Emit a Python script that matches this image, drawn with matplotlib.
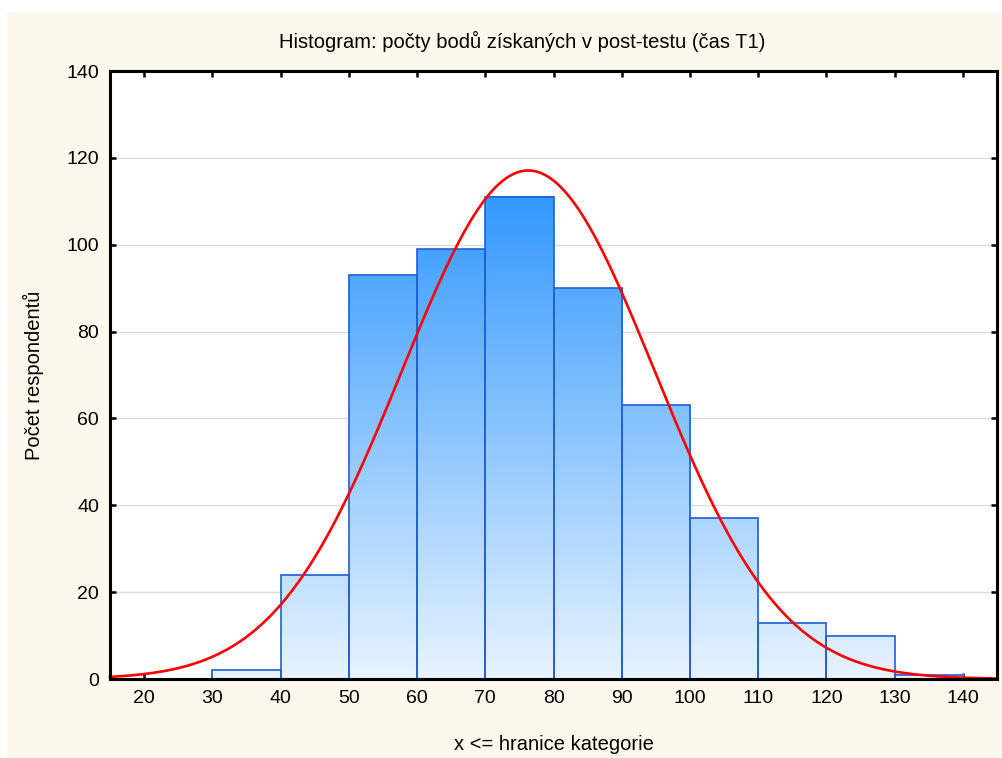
import numpy as np
import matplotlib
matplotlib.use("Agg")
import matplotlib.pyplot as plt
from matplotlib.colors import LinearSegmentedColormap, Normalize
from matplotlib.patches import Rectangle

plt.rcParams['font.family'] = ['Liberation Sans', 'DejaVu Sans']

# histogram data: upper bin boundaries (x <= boundary) and counts
bin_edges = [20, 30, 40, 50, 60, 70, 80, 90, 100, 110, 120, 130, 140]
counts = [0, 2, 24, 93, 99, 111, 90, 63, 37, 13, 10, 1]

# fitted normal curve parameters
fit_mean = 76.3
fit_sd = 18.5

title = "Histogram: počty bodů získaných v post-testu (čas T1)"
xlabel = "x <= hranice kategorie"
ylabel = "Počet respondentů"
xticks = [20, 30, 40, 50, 60, 70, 80, 90, 100, 110, 120, 130, 140]
yticks = [0, 20, 40, 60, 80, 100, 120, 140]

fig = plt.figure(figsize=(10.03, 7.58), dpi=100)
fig.patch.set_facecolor('white')
# cream panel background
fig.patches.append(Rectangle((7 / 1003, 0), 1, (758 - 12) / 758,
                             transform=fig.transFigure, facecolor='#fdf8ed',
                             edgecolor='none', zorder=-10))

ax = fig.add_axes([110 / 1003, 1 - 679 / 758, (997 - 110) / 1003, (679 - 71) / 758])
ax.set_facecolor('white')

cmap = LinearSegmentedColormap.from_list('bl', ['#e8f3fe', '#3399ff'])
norm = Normalize(0, max(counts))

for i, c in enumerate(counts):
    left, right = bin_edges[i], bin_edges[i + 1]
    if c > 0:
        grad = np.linspace(0, c, 256).reshape(-1, 1)
        ax.imshow(grad, cmap=cmap, norm=norm, origin='lower', aspect='auto',
                  extent=(left, right, 0, c), zorder=2, interpolation='bilinear')
    ax.add_patch(Rectangle((left, 0), right - left, c, facecolor='none',
                           edgecolor='#1f5fd6', linewidth=1.2, zorder=3))

ax.set_xlim(15, 145)
ax.set_ylim(0, 140)

xs = np.linspace(15, 145, 500)
n_total = sum(counts)
binw = bin_edges[1] - bin_edges[0]
ys = n_total * binw / (fit_sd * np.sqrt(2 * np.pi)) * np.exp(-0.5 * ((xs - fit_mean) / fit_sd) ** 2)
ax.plot(xs, ys, color='red', linewidth=1.9, zorder=4, clip_on=False)

ax.set_yticks(yticks)
ax.set_xticks(xticks)
ax.yaxis.grid(True, color='#dcdcdc', linewidth=1.0, zorder=0)
ax.set_axisbelow(True)
ax.tick_params(direction='in', length=4, width=1.8, labelsize=14, color='black',
               top=True, right=True, pad=8)
for s in ax.spines.values():
    s.set_linewidth(2.2)
    s.set_zorder(5)

fig.text(522 / 1003, 1 - 41 / 758, title, fontsize=14.5, ha='center', va='center')
ax.set_xlabel(xlabel, fontsize=14.5, labelpad=20)
ax.set_ylabel(ylabel, fontsize=14.5, labelpad=16)

fig.savefig('out.png', dpi=100, facecolor=fig.get_facecolor())
